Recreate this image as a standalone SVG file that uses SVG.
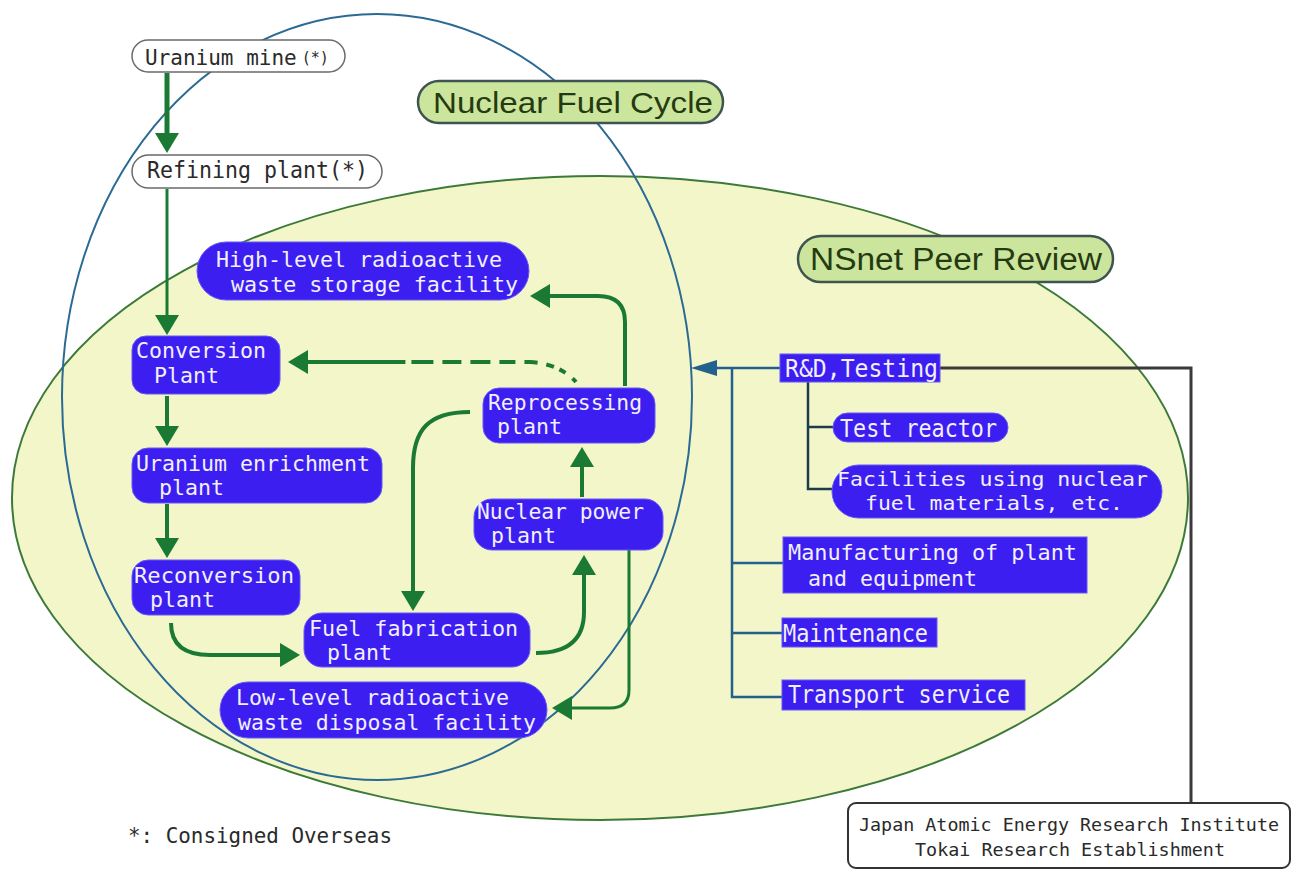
<svg xmlns="http://www.w3.org/2000/svg" width="1293" height="870" viewBox="0 0 1293 870">
<style>
.box{fill:#3c1ef0;stroke:#6656f6;stroke-width:1}
.bt{font-family:"DejaVu Sans Mono","Liberation Mono",monospace;font-size:22px;fill:#f2efff}
.b1{font-size:24px}
.st{font-size:20px}
.dk{font-family:"DejaVu Sans Mono","Liberation Mono",monospace;font-size:23px;fill:#2a2a2a}
.pillw{fill:#ffffff;stroke:#6a6a6a;stroke-width:1.5}
.title{fill:#cbe59c;stroke:#3f5452;stroke-width:2.5}
.tt{font-family:"Liberation Sans",Arial,sans-serif;font-size:29px;fill:#263a12}
.g{fill:none;stroke:#1a7a34;stroke-width:4}
.gt{stroke-width:3}
.gk{stroke-width:5}
.bl{fill:none;stroke:#22618e;stroke-width:2.5}
.dl{fill:none;stroke:#1c3c4c;stroke-width:2.5}
.kl{fill:none;stroke:#3a3a3a;stroke-width:3}
</style>
<defs>
<marker id="ga" viewBox="0 0 20 24" markerWidth="20" markerHeight="24" refX="14" refY="12" orient="auto" markerUnits="userSpaceOnUse">
<path d="M0,0 L20,12 L0,24 Z" fill="#1a7a34"/>
</marker>
<marker id="ba" viewBox="0 0 26 16" markerWidth="26" markerHeight="16" refX="20" refY="8" orient="auto" markerUnits="userSpaceOnUse">
<path d="M0,0 L26,8 L0,16 Z" fill="#22618e"/>
</marker>
</defs>
<rect width="1293" height="870" fill="#ffffff"/>
<g id="regions">
<ellipse id="nsnet-region" cx="600" cy="498" rx="588" ry="322" fill="#f3f6c8" stroke="#3d7a3a" stroke-width="2"/>
<ellipse id="fuel-cycle-region" cx="377" cy="397" rx="315" ry="383" fill="none" stroke="#2b6a94" stroke-width="2"/>
</g>
<g id="connectors">
<path class="g gk" marker-end="url(#ga)" d="M167,73 L167,147"/>
<path class="g gt" marker-end="url(#ga)" d="M167,189 L167,329"/>
<path class="g" marker-end="url(#ga)" d="M167,396 L167,440"/>
<path class="g" marker-end="url(#ga)" d="M167,504 L167,552"/>
<path class="g" marker-end="url(#ga)" d="M171,623 Q171,655 210,655 L294,655"/>
<path class="g" marker-end="url(#ga)" d="M536,653 Q584,653 584,612 L584,561"/>
<path class="g" marker-end="url(#ga)" d="M582,497 L582,453"/>
<path class="g" marker-end="url(#ga)" d="M470,412 C428,412 413,430 413,468 L413,605"/>
<path class="g" marker-end="url(#ga)" d="M625,386 L625,322 Q625,296 598,296 L536,296"/>
<path class="g" stroke-dasharray="5 9 7 6 8 9 13 9 16 9 20 9 19 9 22 6 400" d="M576,382 Q560,364 530,362 L402,362"/>
<path class="g" marker-end="url(#ga)" d="M404,362 L294,362"/>
<path class="g gt" marker-end="url(#ga)" d="M629,550 L629,690 Q629,708 610,708 L558,708"/>
<path class="bl" marker-end="url(#ba)" d="M780,368 L697,368"/>
<path class="bl" d="M732,368 L732,697 L782,697 M732,563 L783,563 M732,633 L782,633"/>
<path class="dl" d="M808,382 L808,489 L834,489 M808,427 L834,427"/>
<path class="kl" d="M940,368 L1191,368 L1191,803"/>
</g>
<g id="title-fuel-cycle">
<rect class="title" x="418" y="81" width="305" height="42" rx="21"/>
<text class="tt" x="433" y="113" textLength="280" lengthAdjust="spacingAndGlyphs">Nuclear Fuel Cycle</text>
</g>
<g id="title-nsnet">
<rect class="title" x="798" y="236" width="315" height="46" rx="23"/>
<text class="tt" x="810" y="270" textLength="292" lengthAdjust="spacingAndGlyphs" style="font-size:31px">NSnet Peer Review</text>
</g>
<g id="uranium-mine">
<rect class="pillw" x="132" y="40" width="213" height="32" rx="16"/>
<text class="dk" x="145" y="65" style="font-size:21px">Uranium mine<tspan style="font-size:15px" dx="5" dy="-2">(*)</tspan></text>
</g>
<g id="refining-plant">
<rect class="pillw" x="132" y="155" width="250" height="33" rx="16.5"/>
<text class="dk" x="147" y="178" textLength="221" lengthAdjust="spacingAndGlyphs">Refining plant(*)</text>
</g>
<g id="high-level-waste">
<rect class="box" x="197" y="242" width="332" height="58" rx="29"/>
<text class="bt" x="216" y="267" textLength="286" lengthAdjust="spacingAndGlyphs">High-level radioactive</text>
<text class="bt" x="231" y="292" textLength="287" lengthAdjust="spacingAndGlyphs">waste storage facility</text>
</g>
<g id="conversion-plant">
<rect class="box" x="132" y="336" width="148" height="58" rx="14"/>
<text class="bt" x="136" y="358" textLength="130" lengthAdjust="spacingAndGlyphs">Conversion</text>
<text class="bt" x="154" y="383" textLength="65" lengthAdjust="spacingAndGlyphs">Plant</text>
</g>
<g id="uranium-enrichment">
<rect class="box" x="132" y="448" width="250" height="55" rx="16"/>
<text class="bt" x="136" y="471" textLength="234" lengthAdjust="spacingAndGlyphs">Uranium enrichment</text>
<text class="bt" x="159" y="495" textLength="65" lengthAdjust="spacingAndGlyphs">plant</text>
</g>
<g id="reconversion-plant">
<rect class="box" x="132" y="560" width="168" height="55" rx="16"/>
<text class="bt" x="134" y="583" textLength="160" lengthAdjust="spacingAndGlyphs">Reconversion</text>
<text class="bt" x="150" y="607" textLength="65" lengthAdjust="spacingAndGlyphs">plant</text>
</g>
<g id="fuel-fabrication">
<rect class="box" x="304" y="613" width="226" height="54" rx="18"/>
<text class="bt" x="309" y="636" textLength="209" lengthAdjust="spacingAndGlyphs">Fuel fabrication</text>
<text class="bt" x="327" y="660" textLength="65" lengthAdjust="spacingAndGlyphs">plant</text>
</g>
<g id="low-level-waste">
<rect class="box" x="220" y="682" width="327" height="56" rx="28"/>
<text class="bt" x="236" y="705" textLength="273" lengthAdjust="spacingAndGlyphs">Low-level radioactive</text>
<text class="bt" x="238" y="730" textLength="298" lengthAdjust="spacingAndGlyphs">waste disposal facility</text>
</g>
<g id="nuclear-power-plant">
<rect class="box" x="474" y="499" width="189" height="51" rx="18"/>
<text class="bt" x="477" y="519" style="font-size:21px" textLength="167" lengthAdjust="spacingAndGlyphs">Nuclear power</text>
<text class="bt" x="491" y="543" style="font-size:21px" textLength="65" lengthAdjust="spacingAndGlyphs">plant</text>
</g>
<g id="reprocessing-plant">
<rect class="box" x="483" y="388" width="172" height="55" rx="16"/>
<text class="bt" x="488" y="410" style="font-size:21px" textLength="154" lengthAdjust="spacingAndGlyphs">Reprocessing</text>
<text class="bt" x="497" y="434" style="font-size:21px" textLength="65" lengthAdjust="spacingAndGlyphs">plant</text>
</g>
<g id="rd-testing">
<rect class="box" x="780" y="354" width="160" height="28"/>
<text class="bt b1" x="785" y="377" textLength="153" lengthAdjust="spacingAndGlyphs">R&amp;D,Testing</text>
</g>
<g id="test-reactor">
<rect class="box" x="833" y="413" width="175" height="29" rx="14.5"/>
<text class="bt b1" x="840" y="437" textLength="157" lengthAdjust="spacingAndGlyphs">Test reactor</text>
</g>
<g id="facilities">
<rect class="box" x="832" y="465" width="330" height="53" rx="26.5"/>
<text class="bt st" x="837" y="486" textLength="311" lengthAdjust="spacingAndGlyphs">Facilities using nuclear</text>
<text class="bt st" x="865" y="510" textLength="258" lengthAdjust="spacingAndGlyphs">fuel materials, etc.</text>
</g>
<g id="manufacturing">
<rect class="box" x="783" y="537" width="304" height="56"/>
<text class="bt" x="788" y="560" textLength="289" lengthAdjust="spacingAndGlyphs">Manufacturing of plant</text>
<text class="bt" x="808" y="586" textLength="169" lengthAdjust="spacingAndGlyphs">and equipment</text>
</g>
<g id="maintenance">
<rect class="box" x="782" y="618" width="155" height="29"/>
<text class="bt b1" x="783" y="642" textLength="145" lengthAdjust="spacingAndGlyphs">Maintenance</text>
</g>
<g id="transport-service">
<rect class="box" x="782" y="680" width="243" height="30"/>
<text class="bt b1" x="788" y="703" textLength="222" lengthAdjust="spacingAndGlyphs">Transport service</text>
</g>
<g id="jaeri">
<rect x="848" y="803" width="442" height="65" rx="8" fill="#ffffff" stroke="#333333" stroke-width="2"/>
<text class="dk" x="859" y="831" style="font-size:18.5px" textLength="420" lengthAdjust="spacingAndGlyphs">Japan Atomic Energy Research Institute</text>
<text class="dk" x="915" y="856" style="font-size:18.5px" textLength="310" lengthAdjust="spacingAndGlyphs">Tokai Research Establishment</text>
</g>
<g id="note">
<text class="dk" x="128" y="843" style="font-size:21px" textLength="264" lengthAdjust="spacingAndGlyphs">*: Consigned Overseas</text>
</g>
</svg>
